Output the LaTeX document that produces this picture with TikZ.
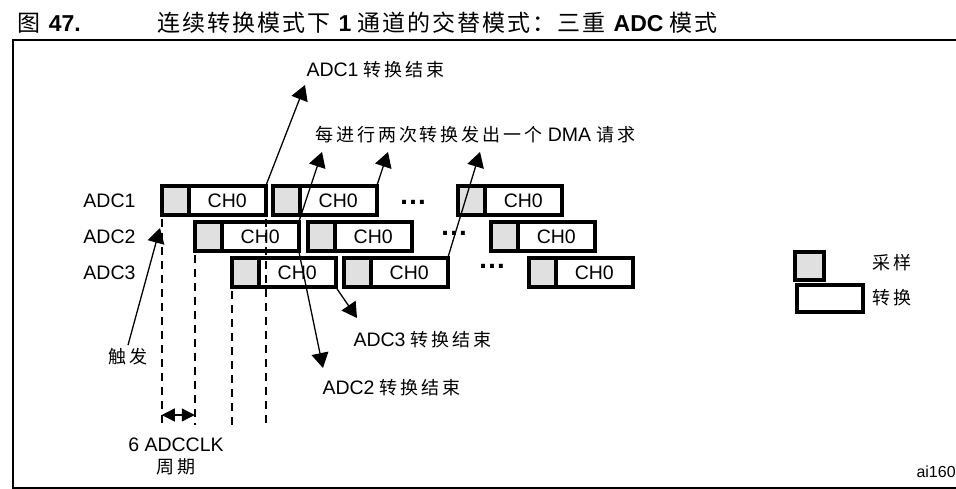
\documentclass[tikz,border=0pt]{standalone}
\usepackage{fontspec}
\setmainfont{Liberation Sans}
\newfontfamily\cjk[LetterSpace=16]{Noto Sans CJK SC}
\newfontfamily\cjkhead[LetterSpace=8.5]{Noto Sans CJK SC}
\newcommand{\zhtxt}[1]{{\fontsize{18}{22}\selectfont\cjk #1}}
\usepackage{tikz}
\usetikzlibrary{arrows.meta,positioning}
\tikzset{
  >={Triangle[length=15pt,width=17pt]},
}
\tikzstyle{every node}=[font=\fontsize{19.5}{22}\selectfont]
\tikzstyle{samp}=[draw,line width=3.5pt,fill=black!12,minimum width=27pt,minimum height=29pt,inner sep=0pt,outer sep=0pt]
\tikzstyle{conv}=[samp,fill=white,minimum width=77pt]
\tikzstyle{endline}=[line width=1.3pt,->]
\tikzstyle{vline}=[line width=2pt,dash pattern=on 8pt off 6pt]

\begin{document}
\begin{tikzpicture}[x=1pt,y=-1pt]
  \useasboundingbox (0,0) rectangle (956,489);
  \node[anchor=base west,font=\fontsize{23}{26}\selectfont] (fig) at (14,32) {{\cjkhead 图} \textbf{47.}};
  \node[anchor=base west,font=\fontsize{23}{26}\selectfont] (ttl) at (154,32) {{\cjkhead 连续转换模式下} \textbf{1} {\cjkhead 通道的交替模式：三重} \textbf{ADC} {\cjkhead 模式}};
  \draw[line width=2.5pt] (13,40) rectangle (980,488);

  \foreach \r/\y/\xa/\xb/\xc in {1/200.5/160/271/456,2/236.5/193/306/489,3/272.5/230/342/527}{
    \node[anchor=east] (adc\r) at (139,\y) {ADC\r};
    \foreach \b/\x in {1/\xa,2/\xb,3/\xc}{
      \node[samp] (s\r\b) at (\x+15.25,\y) {};
      \node[conv,right=0pt of s\r\b] (c\r\b) {CH0};
    }
  }
  \node[anchor=base,font=\fontsize{28}{30}\selectfont\bfseries] (dot1) at (413,205) {…};
  \node[anchor=base,font=\fontsize{28}{30}\selectfont\bfseries] (dot2) at (454,236) {…};
  \node[anchor=base,font=\fontsize{28}{30}\selectfont\bfseries] (dot3) at (492,269) {…};

  \coordinate (bot) at (0,425);
  \coordinate (clk) at (0,415);
  \foreach \n in {s11.south west,s21.south west,s31.south west,c11.south east}
    \draw[vline] ([yshift=-4pt]\n) -- (\n |- bot);
  \draw[<->,line width=1.3pt,>={Triangle[length=13pt,width=13pt]}] (s11.south west |- clk) -- (s21.south west |- clk);
  \node[align=center] (clkl) at (176,456) {6 ADCCLK\\\zhtxt{周期}};

  \node (trg) at (128,357) {\zhtxt{触发}};
  \coordinate (t0) at (160,228);
  \draw[endline] (trg.north) -- (t0);

  \node[anchor=west] (e1) at (303,70) {ADC1 \zhtxt{转换结束}};
  \node[anchor=west] (dma) at (312,135) {\zhtxt{每进行两次转换发出一个} DMA \zhtxt{请求}};
  \node[anchor=west] (e3) at (350,340) {ADC3 \zhtxt{转换结束}};
  \node[anchor=west] (e2) at (319,388) {ADC2 \zhtxt{转换结束}};
  \coordinate (t1) at (305,85);
  \coordinate (t2) at (323,368);
  \coordinate (t3) at (357,318);
  \coordinate (m1) at (322,152);
  \coordinate (m2) at (388,152);
  \coordinate (m3) at (480,152);
  \draw[endline] (c11.north east) -- (t1);
  \draw[endline] (c21.south east) -- (t2);
  \draw[endline] (c31.south east) -- (t3);
  \draw[endline] (c21.north east) -- (m1);
  \draw[endline] (c12.north east) -- (m2);
  \draw[endline] (c32.north east) -- (m3);

  \node[samp,minimum width=29pt,minimum height=28pt] (ks) at (809.5,266) {};
  \node[conv,minimum width=66pt,minimum height=27pt] (kc) at (830,298.5) {};
  \node[anchor=west] (ksl) at (869,263) {\zhtxt{采样}};
  \node[anchor=west] (kcl) at (869,298) {\zhtxt{转换}};
  \node[anchor=west,font=\fontsize{16}{18}\selectfont] (aiid) at (913,472) {ai1605};
\end{tikzpicture}
\end{document}
